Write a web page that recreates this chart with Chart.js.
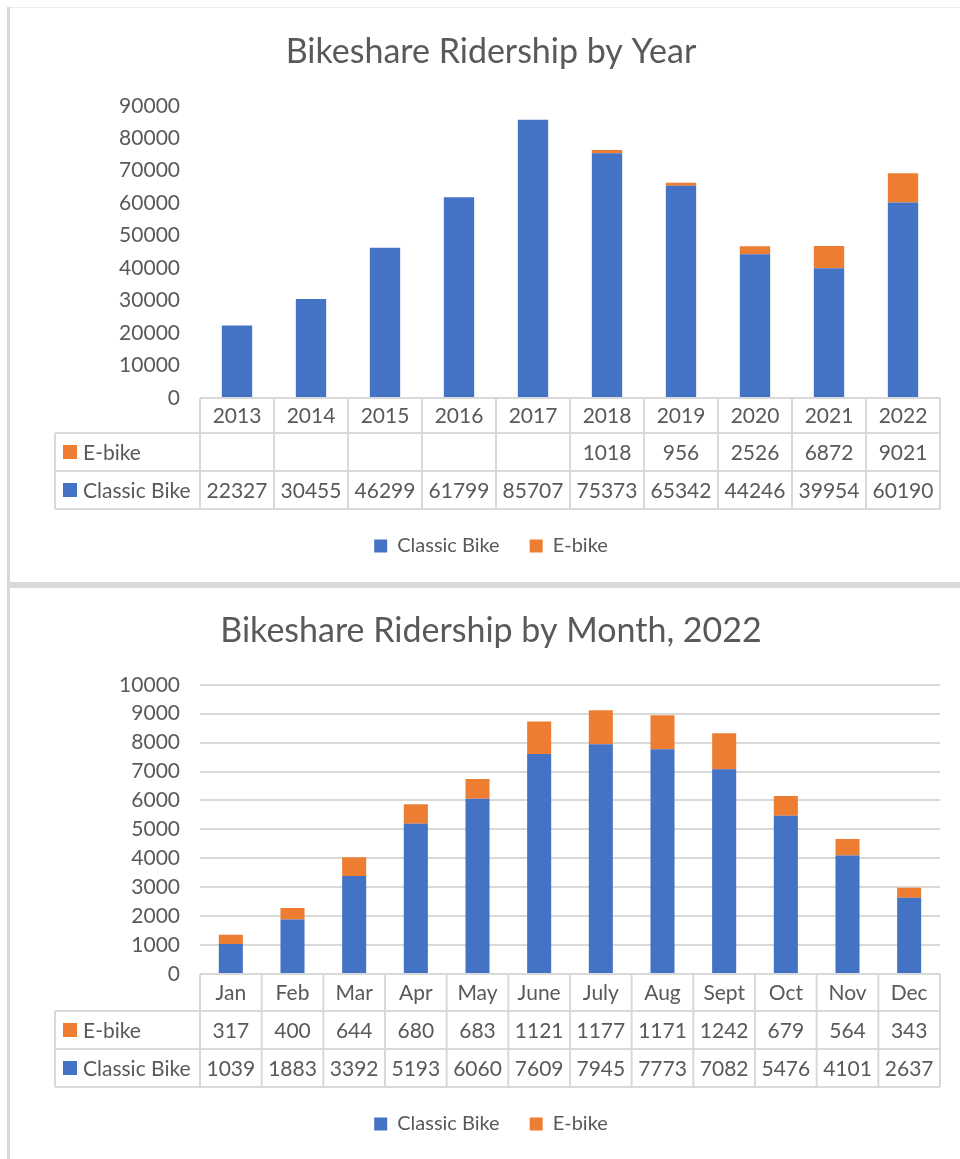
<!DOCTYPE html>
<html>
<head>
<meta charset="utf-8">
<title>Bikeshare Ridership</title>
<script src="https://cdn.jsdelivr.net/npm/chart.js@4/dist/chart.umd.min.js"></script>
<style>
  html, body { margin: 0; padding: 0; background: #fff; }
  body { width: 960px; height: 1159px; position: relative; overflow: hidden; }
  .frame-left { position: absolute; left: 7px; top: 7px; width: 3px; height: 1152px; background: #d9d9d9; }
  .frame-top { position: absolute; left: 10px; top: 7px; width: 950px; height: 1px; background: #eeeeee; }
  .frame-mid { position: absolute; left: 10px; top: 582px; width: 950px; height: 6px; background: #d9d9d9; }
  canvas { position: absolute; left: 42px; }
  #yearChart { top: 0; }
  #monthChart { top: 588px; }
</style>
</head>
<body>
<div class="frame-left"></div>
<div class="frame-top"></div>
<div class="frame-mid"></div>
<canvas id="yearChart" width="918" height="582"></canvas>
<canvas id="monthChart" width="918" height="571"></canvas>
<script>
// Yearly ridership
const years = ['2013', '2014', '2015', '2016', '2017', '2018', '2019', '2020', '2021', '2022'];
const yearClassic = [22327, 30455, 46299, 61799, 85707, 75373, 65342, 44246, 39954, 60190];
const yearEbike = [null, null, null, null, null, 1018, 956, 2526, 6872, 9021];
const yearAxis = { min: 0, max: 90000, step: 10000 };

// Monthly ridership, 2022
const months = ['Jan', 'Feb', 'Mar', 'Apr', 'May', 'June', 'July', 'Aug', 'Sept', 'Oct', 'Nov', 'Dec'];
const monthClassic = [1039, 1883, 3392, 5193, 6060, 7609, 7945, 7773, 7082, 5476, 4101, 2637];
const monthEbike = [317, 400, 644, 680, 683, 1121, 1177, 1171, 1242, 679, 564, 343];
const monthAxis = { min: 0, max: 10000, step: 1000 };

const BLUE = '#4472C4';
const ORANGE = '#ED7D31';
const TEXT = '#595959';
const GRID = '#d9d9d9';
const FONT = 'Lato, "Open Sans", sans-serif';

Chart.defaults.font.family = FONT;
Chart.defaults.color = TEXT;

// Excel-style data table drawn under the x axis
const dataTable = {
    id: 'dataTable',
    afterDraw(chart, args, opts) {
        const { ctx, chartArea } = chart;
        const xScale = chart.scales.x;
        const n = chart.data.labels.length;
        const left = chartArea.left;
        const right = chartArea.right;
        const step = (right - left) / n;
        const top = chartArea.bottom;
        const y1 = top + opts.headerH;
        const y2 = y1 + opts.rowH;
        const y3 = y2 + opts.rowH;
        const labelLeft = opts.labelLeft;

        ctx.save();
        ctx.strokeStyle = GRID;
        ctx.lineWidth = 2;
        ctx.beginPath();
        ctx.moveTo(left, top); ctx.lineTo(right, top);
        [y1, y2, y3].forEach(y => { ctx.moveTo(labelLeft, y); ctx.lineTo(right, y); });
        for (let i = 0; i <= n; i++) {
            const x = left + i * step;
            ctx.moveTo(x, top); ctx.lineTo(x, y3);
        }
        ctx.moveTo(labelLeft, y1); ctx.lineTo(labelLeft, y3);
        ctx.stroke();

        ctx.fillStyle = TEXT;
        ctx.font = opts.fontSize + 'px ' + FONT;
        ctx.textAlign = 'center';
        ctx.textBaseline = 'middle';
        // rows listed top to bottom: last dataset first
        const rows = chart.data.datasets.slice().reverse();
        chart.data.labels.forEach((lab, i) => {
            const cx = xScale.getPixelForValue(i);
            ctx.fillText(lab, cx, top + opts.headerH / 2 + 1);
            rows.forEach((ds, r) => {
                const v = ds.data[i];
                if (v !== null && v !== undefined) {
                    ctx.fillText(String(v), cx, y1 + r * opts.rowH + opts.rowH / 2 + 1);
                }
            });
        });

        ctx.textAlign = 'left';
        rows.forEach((ds, r) => {
            const cy = y1 + r * opts.rowH + opts.rowH / 2;
            ctx.fillStyle = ds.backgroundColor;
            ctx.fillRect(labelLeft + 8, cy - 7, 14, 14);
            ctx.fillStyle = TEXT;
            ctx.fillText(ds.label, labelLeft + 28, cy + 1);
        });
        ctx.restore();
    }
};

function makeChart(id, cfg) {
    return new Chart(document.getElementById(id), {
        type: 'bar',
        data: {
            labels: cfg.labels,
            datasets: [
                { label: 'Classic Bike', data: cfg.classic, backgroundColor: BLUE, barPercentage: cfg.barPct, categoryPercentage: 1 },
                { label: 'E-bike', data: cfg.ebike, backgroundColor: ORANGE, barPercentage: cfg.barPct, categoryPercentage: 1 }
            ]
        },
        options: {
            responsive: false,
            animation: false,
            layout: { padding: { left: 0, right: 20, top: 0, bottom: cfg.padBottom } },
            plugins: {
                title: {
                    display: true,
                    text: cfg.title,
                    color: TEXT,
                    font: { size: 34, weight: 'normal', lineHeight: 1.2 },
                    padding: { top: cfg.titleTop, bottom: cfg.titleBottom }
                },
                legend: {
                    position: 'bottom',
                    labels: { boxWidth: 13, boxHeight: 13, padding: 30, color: TEXT, font: { size: 20 } }
                },
                tooltip: { enabled: false },
                dataTable: { headerH: cfg.headerH, rowH: cfg.rowH, labelLeft: 13, fontSize: 21 }
            },
            scales: {
                x: {
                    stacked: true,
                    grid: { display: false },
                    border: { display: false },
                    ticks: { display: false },
                    afterFit: s => { s.height = cfg.tableSpace; }
                },
                y: {
                    stacked: true,
                    min: cfg.axis.min,
                    max: cfg.axis.max,
                    grid: { display: cfg.gridLines, color: GRID, lineWidth: 2, drawTicks: false },
                    border: { display: false },
                    ticks: {
                        stepSize: cfg.axis.step,
                        padding: 20,
                        color: TEXT,
                        font: { size: 21 },
                        callback: v => String(v)
                    },
                    afterFit: s => { s.width = 158; }
                }
            }
        },
        plugins: [dataTable]
    });
}

makeChart('yearChart', {
    labels: years, classic: yearClassic, ebike: yearEbike, axis: yearAxis,
    title: 'Bikeshare Ridership by Year', barPct: 0.41, gridLines: false,
    titleTop: 32, titleBottom: 33, headerH: 35, rowH: 38, tableSpace: 108, padBottom: 16
});

makeChart('monthChart', {
    labels: months, classic: monthClassic, ebike: monthEbike, axis: monthAxis,
    title: 'Bikeshare Ridership by Month, 2022', barPct: 0.39, gridLines: true,
    titleTop: 23, titleBottom: 33, headerH: 37, rowH: 38, tableSpace: 110, padBottom: 15
});
</script>
</body>
</html>
